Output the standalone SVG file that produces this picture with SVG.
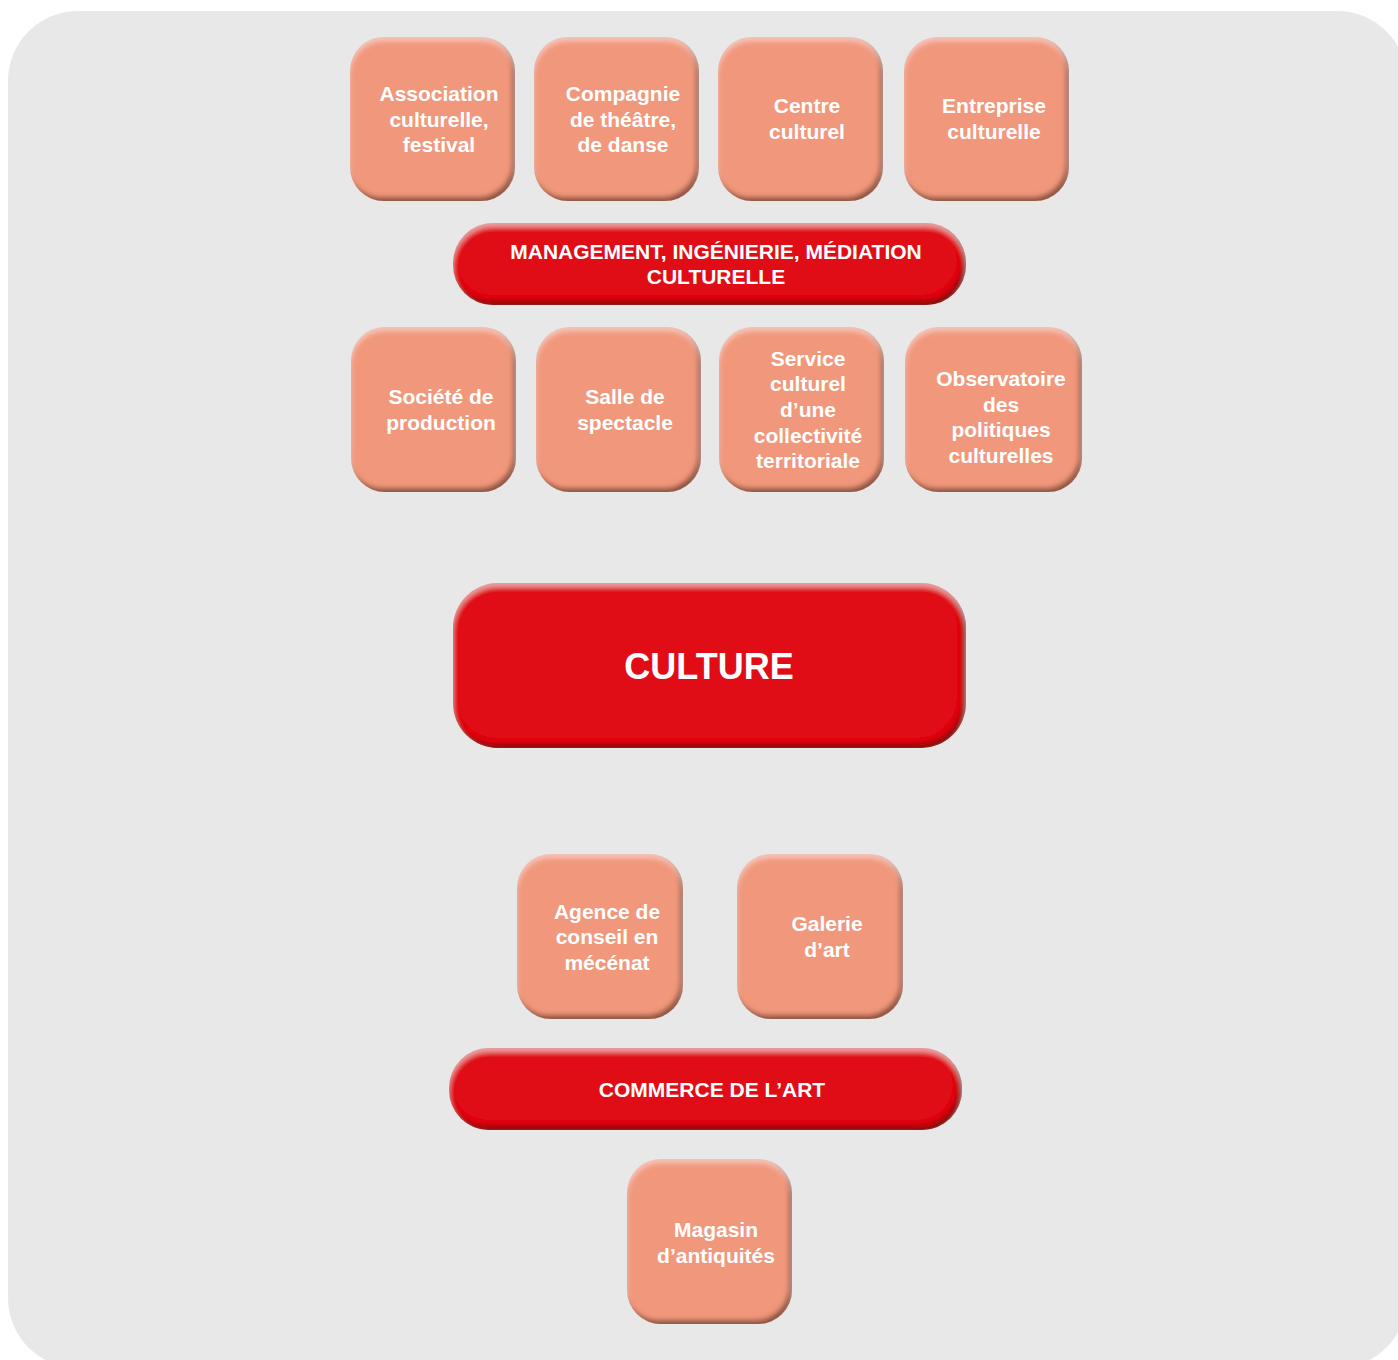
<svg xmlns="http://www.w3.org/2000/svg" width="1398" height="1360" viewBox="0 0 1398 1360">
<defs>
<filter id="bevel" x="-10%" y="-10%" width="120%" height="120%">
 <feGaussianBlur in="SourceAlpha" stdDeviation="2.5" result="blur"/>
 <feOffset in="blur" dx="-3" dy="-4" result="offBR"/>
 <feComposite in="SourceAlpha" in2="offBR" operator="out" result="edgeBR"/>
 <feFlood flood-color="#3a0e04" flood-opacity="0.75"/>
 <feComposite in2="edgeBR" operator="in" result="shadowBR"/>
 <feOffset in="blur" dx="0" dy="4" result="offT"/>
 <feComposite in="SourceAlpha" in2="offT" operator="out" result="edgeT"/>
 <feFlood flood-color="#ffffff" flood-opacity="0.35"/>
 <feComposite in2="edgeT" operator="in" result="hiT"/>
 <feMerge><feMergeNode in="SourceGraphic"/><feMergeNode in="shadowBR"/><feMergeNode in="hiT"/></feMerge>
</filter>
</defs>
<style>
.box{fill:#f1987b;filter:url(#bevel)}
.bar{fill:#e10916;filter:url(#bevel)}
text{font-family:"Liberation Sans",Arial,Helvetica,sans-serif;font-weight:bold;fill:#ffffff;text-anchor:middle;font-size:21px}
.big{font-size:36px}
</style>
<rect x="8" y="11" width="1399" height="1357" rx="70" ry="70" fill="#e8e8e8"/>
<g id="connectors"/>
<g id="n-association"><rect class="box" x="350" y="37" width="165" height="164" rx="34"/><text x="439"><tspan x="439" y="101">Association</tspan><tspan x="439" y="127">culturelle,</tspan><tspan x="439" y="152">festival</tspan></text></g>
<g id="n-compagnie"><rect class="box" x="534" y="37" width="165" height="164" rx="34"/><text x="623"><tspan x="623" y="101">Compagnie</tspan><tspan x="623" y="127">de théâtre,</tspan><tspan x="623" y="152">de danse</tspan></text></g>
<g id="n-centre"><rect class="box" x="718" y="37" width="165" height="164" rx="34"/><text x="807"><tspan x="807" y="113">Centre</tspan><tspan x="807" y="139">culturel</tspan></text></g>
<g id="n-entreprise"><rect class="box" x="904" y="37" width="165" height="164" rx="34"/><text x="994"><tspan x="994" y="113">Entreprise</tspan><tspan x="994" y="139">culturelle</tspan></text></g>
<g id="n-management"><rect class="bar" x="453" y="223" width="513" height="82" rx="40"/><text x="716"><tspan x="716" y="259">MANAGEMENT, INGÉNIERIE, MÉDIATION</tspan><tspan x="716" y="284">CULTURELLE</tspan></text></g>
<g id="n-societe"><rect class="box" x="351" y="327" width="165" height="165" rx="34"/><text x="441"><tspan x="441" y="404">Société de</tspan><tspan x="441" y="430">production</tspan></text></g>
<g id="n-salle"><rect class="box" x="536" y="327" width="165" height="165" rx="34"/><text x="625"><tspan x="625" y="404">Salle de</tspan><tspan x="625" y="430">spectacle</tspan></text></g>
<g id="n-service"><rect class="box" x="719" y="327" width="165" height="165" rx="34"/><text x="808"><tspan x="808" y="366">Service</tspan><tspan x="808" y="391">culturel</tspan><tspan x="808" y="417">d’une</tspan><tspan x="808" y="443">collectivité</tspan><tspan x="808" y="468">territoriale</tspan></text></g>
<g id="n-observatoire"><rect class="box" x="905" y="327" width="177" height="165" rx="34"/><text x="1001"><tspan x="1001" y="386">Observatoire</tspan><tspan x="1001" y="412">des</tspan><tspan x="1001" y="437">politiques</tspan><tspan x="1001" y="463">culturelles</tspan></text></g>
<g id="n-culture"><rect class="bar" x="453" y="583" width="513" height="165" rx="45"/><text class="big" x="709" y="679">CULTURE</text></g>
<g id="n-agence"><rect class="box" x="517" y="854" width="166" height="165" rx="34"/><text x="607"><tspan x="607" y="919">Agence de</tspan><tspan x="607" y="944">conseil en</tspan><tspan x="607" y="970">mécénat</tspan></text></g>
<g id="n-galerie"><rect class="box" x="737" y="854" width="166" height="165" rx="34"/><text x="827"><tspan x="827" y="931">Galerie</tspan><tspan x="827" y="957">d’art</tspan></text></g>
<g id="n-commerce"><rect class="bar" x="449" y="1048" width="513" height="82" rx="40"/><text x="712" y="1097">COMMERCE DE L’ART</text></g>
<g id="n-magasin"><rect class="box" x="627" y="1159" width="165" height="165" rx="34"/><text x="716"><tspan x="716" y="1237">Magasin</tspan><tspan x="716" y="1263">d’antiquités</tspan></text></g>
</svg>
